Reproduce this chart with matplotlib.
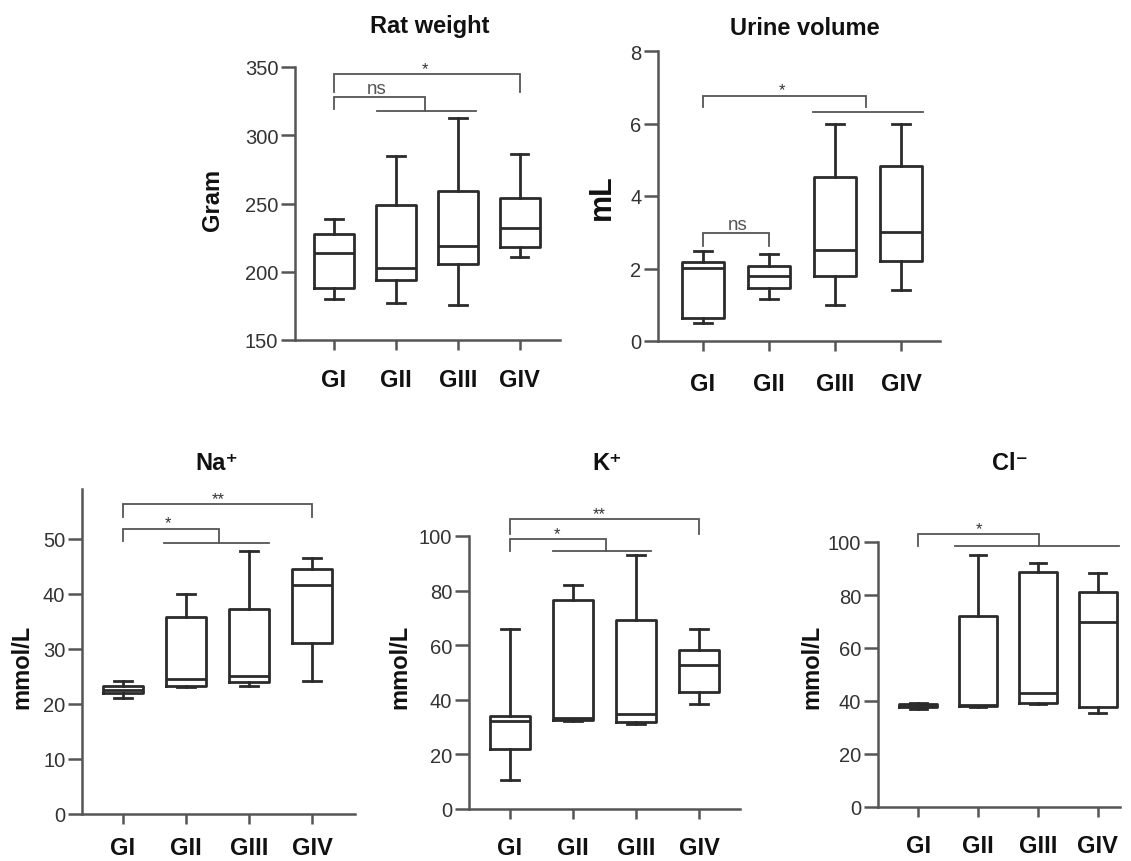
import matplotlib
matplotlib.use('Agg')
import matplotlib.pyplot as plt

plt.rcParams['font.family'] = ['Liberation Sans', 'DejaVu Sans']

groups = ['GI', 'GII', 'GIII', 'GIV']

rat_lo = [180, 177, 176, 211]
rat_q1 = [188, 194, 206, 218]
rat_med = [214, 203, 219, 232]
rat_q3 = [228, 249, 259, 254]
rat_hi = [239, 285, 313, 286]

urine_lo = [0.5, 1.15, 1.0, 1.4]
urine_q1 = [0.63, 1.45, 1.8, 2.2]
urine_med = [2.02, 1.78, 2.5, 3.0]
urine_q3 = [2.17, 2.06, 4.52, 4.84]
urine_hi = [2.49, 2.39, 6.0, 6.0]

na_lo = [21.0, 23.0, 23.3, 24.1]
na_q1 = [22.0, 23.2, 23.9, 31.1]
na_med = [22.6, 24.5, 25.0, 41.6]
na_q3 = [23.2, 35.7, 37.3, 44.4]
na_hi = [24.2, 40.0, 47.7, 46.4]

k_lo = [10.6, 32.2, 31.3, 38.4]
k_q1 = [21.8, 32.6, 31.8, 42.8]
k_med = [32.4, 33.4, 34.7, 52.6]
k_q3 = [34.2, 76.4, 69.1, 58.3]
k_hi = [66.0, 82.2, 92.9, 66.0]

cl_lo = [37.1, 37.6, 38.9, 35.6]
cl_q1 = [37.9, 38.1, 39.4, 37.9]
cl_med = [38.4, 38.5, 42.9, 69.7]
cl_q3 = [38.9, 72.0, 88.6, 81.1]
cl_hi = [39.4, 95.0, 91.9, 88.3]

W, H = 1131, 862
fig = plt.figure(figsize=(W / 100, H / 100), dpi=100)

BOXC = '#2b2b2b'
AXC = '#555555'
TXTC = '#333333'


def rect(l, r, t, b):
    return [l / W, (H - b) / H, (r - l) / W, (b - t) / H]


panels = [
    dict(rect=rect(295, 560, 68, 341), data=(rat_lo, rat_q1, rat_med, rat_q3, rat_hi),
         ylim=(150, 350), yticks=[150, 200, 250, 300, 350], xlim=(-0.63, 3.65), xpad=13,
         title='Rat weight', tpos=(430, 33), ylabel='Gram', ylpos=(213, 200), ylfs=17,
         brackets=[(0, 3, 345, 332, 332, '*', 1.47), (0, 1.47, 328, 319.4, 318, 'ns', 0.69)],
         lines=[(0.69, 2.29, 318)]),
    dict(rect=rect(658, 940, 52, 342), data=(urine_lo, urine_q1, urine_med, urine_q3, urine_hi),
         ylim=(0, 8), yticks=[0, 2, 4, 6, 8], xlim=(-0.68, 3.59), xpad=15,
         title='Urine volume', tpos=(805, 35), ylabel='mL', ylpos=(602, 197), ylfs=22,
         brackets=[(0, 2.47, 6.77, 6.45, 6.45, '*', 1.2), (0, 1, 2.98, 2.63, 2.63, 'ns', 0.53)],
         lines=[(1.67, 3.33, 6.33)]),
    dict(rect=rect(82, 355, 490, 815), data=(na_lo, na_q1, na_med, na_q3, na_hi),
         ylim=(0, 59), yticks=[0, 10, 20, 30, 40, 50], xlim=(-0.65, 3.68), xpad=8,
         title='Na\u207a', tpos=(217, 470), ylabel='mmol/L', ylpos=(22, 667), ylfs=17,
         brackets=[(0, 3, 56.2, 53.9, 53.9, '**', 1.51), (0, 1.52, 51.8, 49.5, 49.2, '*', 0.72)],
         lines=[(0.65, 2.32, 49.2)]),
    dict(rect=rect(469, 740, 537, 810), data=(k_lo, k_q1, k_med, k_q3, k_hi),
         ylim=(0, 100), yticks=[0, 20, 40, 60, 80, 100], xlim=(-0.65, 3.65), xpad=12,
         title='K\u207a', tpos=(607, 470), ylabel='mmol/L', ylpos=(400, 667), ylfs=17,
         brackets=[(0, 3, 106.1, 100.9, 100.9, '**', 1.41), (0, 1.52, 99, 94.5, 94.5, '*', 0.75)],
         lines=[(0.68, 2.24, 94.5)]),
    dict(rect=rect(878, 1120, 543, 808), data=(cl_lo, cl_q1, cl_med, cl_q3, cl_hi),
         ylim=(0, 100), yticks=[0, 20, 40, 60, 80, 100], xlim=(-0.67, 3.37), xpad=12,
         title='Cl\u207b', tpos=(1010, 470), ylabel='mmol/L', ylpos=(812, 667), ylfs=17,
         brackets=[(0, 2.02, 102.9, 98.5, 98.5, '*', 1.02)],
         lines=[(0.62, 3.35, 98.5)]),
]

for p in panels:
    ax = fig.add_axes(p['rect'])
    lo, q1, med, q3, hi = p['data']
    stats = [dict(whislo=lo[i], q1=q1[i], med=med[i], q3=q3[i], whishi=hi[i], fliers=[])
             for i in range(len(groups))]
    lp = dict(color=BOXC, linewidth=2.0)
    ax.bxp(stats, positions=range(len(groups)), widths=0.64, showfliers=False,
           boxprops=lp, medianprops=lp, whiskerprops=lp, capprops=lp, capwidths=0.28)
    ax.set_xlim(*p['xlim'])
    ax.set_ylim(*p['ylim'])
    ax.set_yticks(p['yticks'])
    ax.set_xticks(range(len(groups)))
    ax.set_xticklabels(groups, fontsize=17, fontweight='bold', color='#111111')
    for s in ['top', 'right']:
        ax.spines[s].set_visible(False)
    for s in ['left', 'bottom']:
        ax.spines[s].set_color(AXC)
        ax.spines[s].set_linewidth(1.8)
    ax.tick_params(axis='y', length=10, width=1.8, color=AXC, labelsize=14.5,
                   labelcolor=TXTC, pad=2)
    ax.tick_params(axis='x', length=7.5, width=1.8, color=AXC, pad=p['xpad'])
    ax.patch.set_alpha(0)

    for (x1, x2, y, yl, yr, lab, tx) in p['brackets']:
        ax.plot([x1, x1, x2, x2], [yl, y, y, yr], color='#555555', lw=1.3,
                clip_on=False, solid_joinstyle='miter')
        if lab == 'ns':
            ax.annotate(lab, (tx, y), xytext=(0, 0), textcoords='offset points',
                        ha='center', va='bottom', fontsize=13.5, color='#555555',
                        annotation_clip=False)
        else:
            ax.annotate(lab, (tx, y), xytext=(0, 4), textcoords='offset points',
                        ha='center', va='center', fontsize=12, color='#333333',
                        annotation_clip=False)
    for (x1, x2, y) in p['lines']:
        ax.plot([x1, x2], [y, y], color='#555555', lw=1.3, clip_on=False)

    fig.text(p['tpos'][0] / W, 1 - p['tpos'][1] / H, p['title'], ha='center', va='baseline',
             fontsize=17, fontweight='bold', color='#111111')
    fig.text(p['ylpos'][0] / W, 1 - p['ylpos'][1] / H, p['ylabel'], ha='center', va='center',
             rotation=90, fontsize=p['ylfs'], fontweight='bold', color='#111111')

fig.savefig('out.png', dpi=100)
